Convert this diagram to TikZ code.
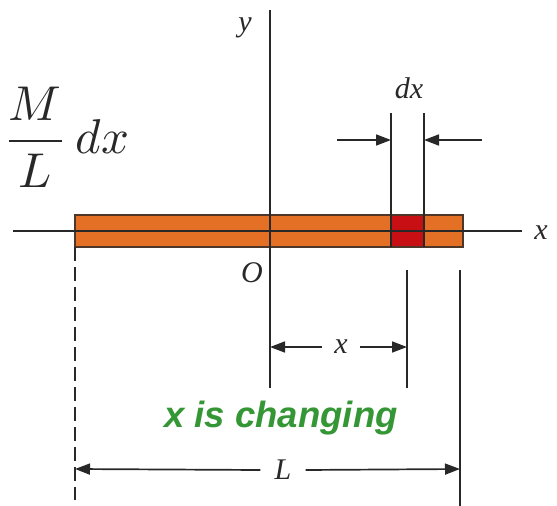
\documentclass[tikz,border=0pt]{standalone}
\usepackage{fontspec}
\setmainfont{Liberation Serif}
\newfontfamily\greenfont{Liberation Sans}
\usetikzlibrary{arrows.meta}
\definecolor{rodorange}{RGB}{228,112,38}
\definecolor{elemred}{RGB}{200,16,20}
\definecolor{linegray}{RGB}{40,40,40}
\definecolor{txtgreen}{RGB}{52,150,52}
\begin{document}
\begin{tikzpicture}[x=1pt,y=-1pt,
  ln/.style={draw=linegray,line width=1.7pt},
  dimarrow/.style={ln,-{Triangle[length=15pt,width=11pt]}},
  lbl/.style={inner sep=0pt,font=\fontsize{30}{32}\selectfont\itshape,text=linegray},
  rodbox/.style={draw=linegray!80!rodorange,line width=1.4pt,fill=rodorange,inner sep=0pt,minimum height=32pt},
  elembox/.style={fill=elemred,inner sep=0pt,minimum height=30pt}]
\useasboundingbox (0,0) rectangle (557,506);
% rod and element
\node[rodbox,minimum width=388pt] (rod) at (269,231) {};
\node[elembox,minimum width=33pt] (elem) at (407.5,231) {};
% axes
\coordinate (xa0) at (13,231);
\coordinate (xa1) at (522,231);
\coordinate (ya0) at (270,10);
\coordinate (ya1) at (270,388);
\draw[ln] (xa0) -- (xa1);
\draw[ln] (ya0) -- (ya1);
\node[lbl] (xlab) at (541,233) {x};
\node[lbl] (ylab) at (245,28) {y};
\node[lbl] (olab) at (252,273) {O};
% dx marks
\coordinate (e1t) at (391,113);
\coordinate (e1b) at (391,247);
\coordinate (e2t) at (424,113);
\coordinate (e2b) at (424,247);
\draw[ln] (e1t) -- (e1b);
\draw[ln] (e2t) -- (e2b);
\coordinate (la) at (337,140);
\coordinate (lb) at (391,140);
\coordinate (ra) at (482,140);
\coordinate (rb) at (424,140);
\draw[dimarrow] (la) -- (lb);
\draw[dimarrow] (ra) -- (rb);
\node[lbl] (dxlab) at (409,88) {dx};
% M/L dx
\node[inner sep=0pt,text=linegray] (mldx) at (66,137) {\resizebox{126pt}{!}{$\displaystyle\frac{M}{L}\,dx$}};
% lower vertical lines
\coordinate (v1t) at (407,270);
\coordinate (v1b) at (407,388);
\coordinate (v2t) at (460,270);
\coordinate (v2b) at (460,506);
\coordinate (dt) at (75,247);
\coordinate (db) at (75,500);
\draw[ln] (v1t) -- (v1b);
\draw[ln] (v2t) -- (v2b);
\draw[ln,dash pattern=on 14pt off 6pt] (dt) -- (db);
% x dimension
\node[lbl] (xmid) at (341,347) {x};
\coordinate (xl) at (270,347);
\coordinate (xr) at (407,347);
\draw[dimarrow] (xmid.west) ++(-12,0) -- (xl);
\draw[dimarrow] (xmid.east) ++(12,0) -- (xr);
% green text
\node[inner sep=0pt,font=\greenfont\bfseries\itshape\fontsize{36.5}{38}\selectfont,text=txtgreen] (chg) at (281,418) {x is changing};
% L dimension
\node[lbl] (Llab) at (283,470) {L};
\coordinate (Ll) at (75,469);
\coordinate (Lr) at (460,469);
\draw[dimarrow] (Llab.west) ++(-14,0) -- (Ll);
\draw[dimarrow] (Llab.east) ++(14,0) -- (Lr);
\end{tikzpicture}
\end{document}
